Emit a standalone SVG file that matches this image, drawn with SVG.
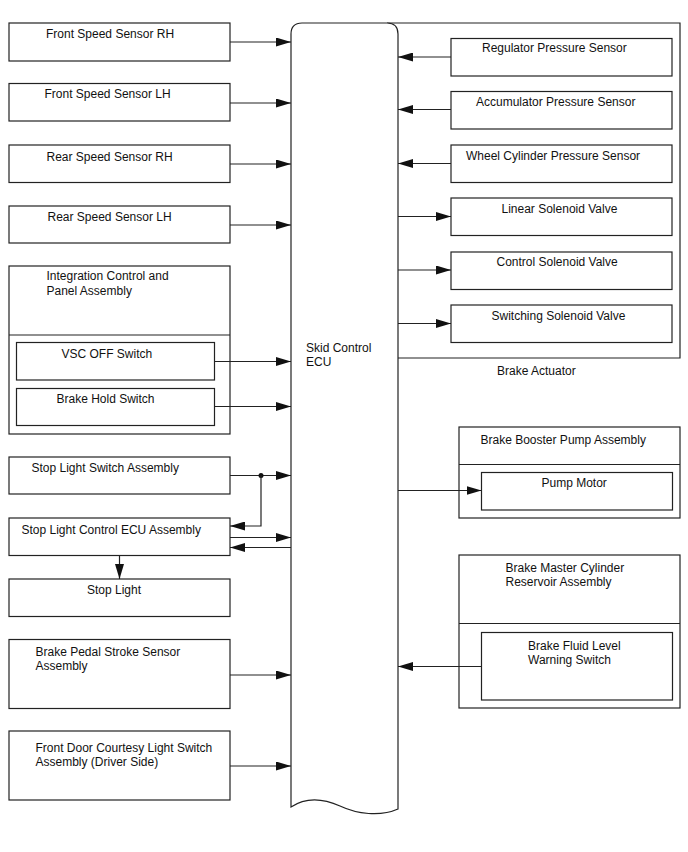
<svg xmlns="http://www.w3.org/2000/svg" width="688" height="852" viewBox="0 0 688 852">
<style>
.b{fill:#fff;stroke:#222;stroke-width:1.2}
.n{fill:none;stroke:#222;stroke-width:1.2}
.c{fill:none;stroke:#222;stroke-width:1.2}
.a{marker-end:url(#ah)}
text{font-family:"Liberation Sans",Arial,sans-serif;font-size:12px;fill:#111}
</style>
<defs>
<marker id="ah" markerUnits="userSpaceOnUse" markerWidth="16" markerHeight="9" refX="15" refY="4.5" orient="auto">
<path d="M0,0 L15,4.5 L0,9 z" fill="#111"/>
</marker>
</defs>
<rect width="688" height="852" fill="#fff"/>

<g id="brake-actuator">
<path class="n" d="M387,23 H680 V358 H398"/>
<text x="497" y="375">Brake Actuator</text>
</g>

<g id="skid-control-ecu">
<path class="b" d="M291,807 V34 Q291,23 302,23 H387 Q398,23 398,34 V809 C380,817 357,814 340,806 C320,797 303,799 291,807 Z"/>
<text x="306" y="352">Skid Control</text>
<text x="306" y="366">ECU</text>
</g>

<g id="front-speed-rh"><rect class="b" x="9" y="23" width="221" height="38"/><text x="46" y="38">Front Speed Sensor RH</text></g>
<g id="front-speed-lh"><rect class="b" x="9" y="83.5" width="221" height="37.5"/><text x="44.5" y="98">Front Speed Sensor LH</text></g>
<g id="rear-speed-rh"><rect class="b" x="9" y="145" width="221" height="37.5"/><text x="46.5" y="160.5">Rear Speed Sensor RH</text></g>
<g id="rear-speed-lh"><rect class="b" x="9" y="206" width="221" height="37"/><text x="47.5" y="221">Rear Speed Sensor LH</text></g>

<g id="integration-control">
<rect class="b" x="9" y="266" width="221" height="168"/>
<line class="n" x1="9" y1="335" x2="230" y2="335"/>
<text x="46.5" y="280">Integration Control and</text>
<text x="46.5" y="295">Panel Assembly</text>
</g>
<g id="vsc-off-switch"><rect class="b" x="16.5" y="342.5" width="198" height="37.5"/><text x="61.5" y="358">VSC OFF Switch</text></g>
<g id="brake-hold-switch"><rect class="b" x="16.5" y="388.5" width="198" height="37"/><text x="56.5" y="403">Brake Hold Switch</text></g>

<g id="stop-light-switch"><rect class="b" x="9" y="457" width="221" height="37"/><text x="31.5" y="472">Stop Light Switch Assembly</text></g>
<g id="stop-light-control-ecu"><rect class="b" x="9" y="518" width="221" height="37.5"/><text x="21.5" y="533.5">Stop Light Control ECU Assembly</text></g>
<g id="stop-light"><rect class="b" x="9" y="579" width="221" height="37.5"/><text x="87" y="594">Stop Light</text></g>

<g id="brake-pedal-stroke"><rect class="b" x="9" y="639.5" width="221" height="69"/><text x="35.5" y="656">Brake Pedal Stroke Sensor</text><text x="35.5" y="670">Assembly</text></g>
<g id="front-door-courtesy"><rect class="b" x="9" y="731" width="221" height="69"/><text x="35.5" y="752">Front Door Courtesy Light Switch</text><text x="35.5" y="766">Assembly (Driver Side)</text></g>

<g id="regulator-pressure"><rect class="b" x="451" y="38.5" width="221" height="37.5"/><text x="482" y="52">Regulator Pressure Sensor</text></g>
<g id="accumulator-pressure"><rect class="b" x="451" y="91.5" width="221" height="37.5"/><text x="476" y="106">Accumulator Pressure Sensor</text></g>
<g id="wheel-cylinder-pressure"><rect class="b" x="451" y="145" width="221" height="37.5"/><text x="466" y="160">Wheel Cylinder Pressure Sensor</text></g>
<g id="linear-solenoid"><rect class="b" x="451" y="198" width="221" height="37.5"/><text x="501.5" y="213">Linear Solenoid Valve</text></g>
<g id="control-solenoid"><rect class="b" x="451" y="252" width="221" height="37.5"/><text x="496.5" y="266">Control Solenoid Valve</text></g>
<g id="switching-solenoid"><rect class="b" x="451" y="305" width="221" height="37.5"/><text x="491.5" y="320">Switching Solenoid Valve</text></g>

<g id="brake-booster-pump">
<rect class="b" x="459" y="427" width="221" height="91"/>
<line class="n" x1="459" y1="464.5" x2="680" y2="464.5"/>
<text x="480.5" y="444">Brake Booster Pump Assembly</text>
</g>
<g id="pump-motor"><rect class="b" x="481.5" y="472.5" width="191" height="37.5"/><text x="541.5" y="487">Pump Motor</text></g>

<g id="brake-master-cylinder">
<rect class="b" x="459" y="555" width="221" height="153"/>
<line class="n" x1="459" y1="623.5" x2="680" y2="623.5"/>
<text x="505.5" y="572">Brake Master Cylinder</text>
<text x="505.5" y="586">Reservoir Assembly</text>
</g>
<g id="brake-fluid-level"><rect class="b" x="481.5" y="632.5" width="191" height="67.5"/><text x="528" y="650">Brake Fluid Level</text><text x="528" y="664">Warning Switch</text></g>

<g id="connectors">
<line class="c a" x1="230" y1="42" x2="291" y2="42"/>
<line class="c a" x1="230" y1="103" x2="291" y2="103"/>
<line class="c a" x1="230" y1="164" x2="291" y2="164"/>
<line class="c a" x1="230" y1="225" x2="291" y2="225"/>
<line class="c a" x1="214.5" y1="361.5" x2="291" y2="361.5"/>
<line class="c a" x1="214.5" y1="406.5" x2="291" y2="406.5"/>
<line class="c a" x1="230" y1="475.5" x2="291" y2="475.5"/>
<circle cx="261" cy="475.5" r="2.5" fill="#111"/>
<polyline class="c a" points="261,475.5 261,526 230,526"/>
<line class="c a" x1="230" y1="537.5" x2="291" y2="537.5"/>
<line class="c a" x1="291" y1="547.5" x2="230" y2="547.5"/>
<line class="c a" x1="119.5" y1="555.5" x2="119.5" y2="579"/>
<line class="c a" x1="230" y1="675" x2="291" y2="675"/>
<line class="c a" x1="230" y1="766" x2="291" y2="766"/>
<line class="c a" x1="451" y1="57" x2="398" y2="57"/>
<line class="c a" x1="451" y1="109.5" x2="398" y2="109.5"/>
<line class="c a" x1="451" y1="163.5" x2="398" y2="163.5"/>
<line class="c a" x1="398" y1="216.5" x2="451" y2="216.5"/>
<line class="c a" x1="398" y1="270" x2="451" y2="270"/>
<line class="c a" x1="398" y1="323.5" x2="451" y2="323.5"/>
<line class="c a" x1="398" y1="490.5" x2="481.5" y2="490.5"/>
<line class="c a" x1="481.5" y1="666.5" x2="398" y2="666.5"/>
</g>
</svg>
